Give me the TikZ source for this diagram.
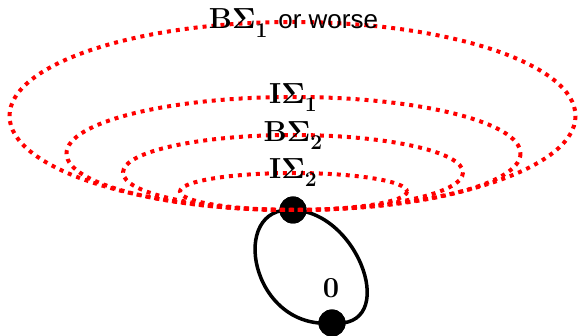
\documentclass[tikz,border=0pt]{standalone}
\usepackage{fontspec}
\newfontfamily\orfont{Liberation Sans}
\tikzset{
  reddot/.style={draw=red, line width=4pt, dash pattern=on 4pt off 5pt},
  blackdot/.style={circle, fill=black, inner sep=0pt, minimum size=27pt},
  lbl/.style={inner sep=0pt, font=\fontsize{29}{32}\selectfont\bfseries},
  loopline/.style={draw=black, line width=3.5pt}
}
\newcommand{\sub}[1]{\raisebox{-0.28em}{\fontsize{21}{22}\selectfont #1}}
\begin{document}
\begin{tikzpicture}[x=1pt,y=-1pt]
\useasboundingbox (0,0) rectangle (578,336);
% dots
\node[blackdot] (top) at (293,210) {};
\node[blackdot] (bot) at (332,323) {};
% loop
\draw[loopline] (top.center) .. controls (228,205) and (250,330) .. (bot.center)
  .. controls (400,330) and (360,212) .. (top.center);
\node[blackdot] at (top.center) {};
\node[blackdot] at (bot.center) {};
% ellipses
\draw[reddot] (292.5,116) ellipse [x radius=283, y radius=94];
\draw[reddot] (293.5,153.5) ellipse [x radius=227, y radius=56.5];
\draw[reddot] (293,172.5) ellipse [x radius=170, y radius=37.5];
\draw[reddot] (293.5,191.5) ellipse [x radius=113.5, y radius=18.5];
% labels
\node[lbl] (l1) at (293.5,23) {BΣ\sub{1} {\orfont\mdseries\fontsize{26}{28}\selectfont or worse}};
\node[lbl] (l2) at (293,97.5) {IΣ\sub{1}};
\node[lbl] (l3) at (293,135.5) {BΣ\sub{2}};
\node[lbl] (l4) at (293,172.5) {IΣ\sub{2}};
\node[lbl] (l0) at (331,288) {0};
\end{tikzpicture}
\end{document}
